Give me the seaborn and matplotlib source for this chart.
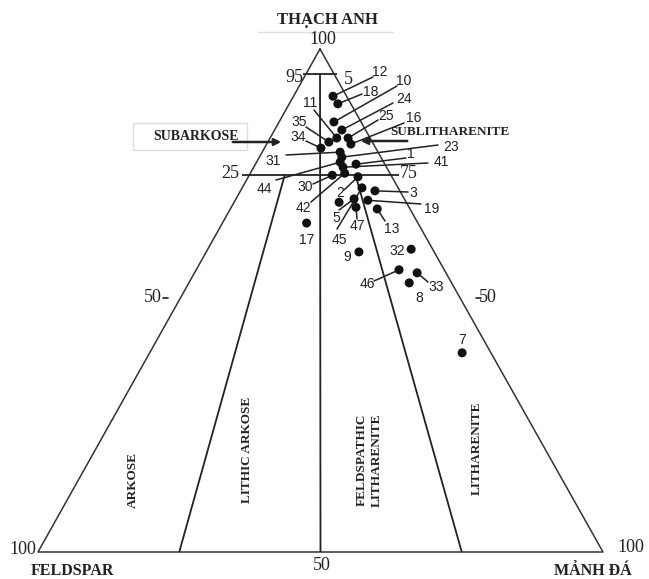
"""
Ternary QFR diagram (Folk) - sandstone classification of samples.
"""

import pandas as pd
import matplotlib.pyplot as plt
import seaborn as sns

# ── Sample compositions (% Thach anh / Feldspar / Manh da) ──────────
sample_ids = ["12", "18", "10", "24", "25", "16", "11", "35", "34", "31",
              "23", "44", "1", "41", "42", "30", "2", "45", "3", "5",
              "", "19", "47", "13", "17", "9", "32", "46", "33", "8", "7"]
quartz = [90.7, 89.1, 85.5, 83.9, 82.3, 81.1, 82.3, 81.5, 80.3, 79.5,
          78.5, 77.5, 77.1, 76.5, 75.3, 74.9, 74.6, 72.4, 71.8, 70.2,
          69.6, 70.0, 68.6, 68.2, 65.4, 59.6, 60.2, 56.1, 55.5, 53.5, 39.6]
feldspar = [2.4, 2.3, 4.8, 4.2, 3.9, 4.0, 5.9, 7.7, 9.7, 6.7,
            6.9, 7.7, 5.1, 7.7, 8.0, 10.4, 6.0, 6.4, 4.4, 8.9,
            11.9, 6.6, 9.4, 5.8, 19.7, 13.3, 3.8, 8.0, 5.1, 7.5, 5.1]
rock_frag = [7.0, 8.6, 9.7, 11.9, 13.8, 14.9, 11.8, 10.8, 10.0, 13.8,
             14.6, 14.8, 17.8, 15.8, 16.7, 14.7, 19.4, 21.2, 23.8, 20.9,
             18.6, 23.5, 22.1, 26.0, 14.9, 27.0, 36.0, 35.9, 39.4, 39.0, 55.3]

# field names
region_names = ["ARKOSE", "LITHIC ARKOSE", "FELDSPATHIC\nLITHARENITE", "LITHARENITE"]

# ── Layout (pixel space of the 649x579 picture) ─────────────────────
APEX, LEFT, RIGHT = (320, 49), (38, 552), (603, 552)

# label text position, start of leader line (None = no leader)
label_pos = {
    "12": ((380, 72), (373, 77)), "18": ((371, 92), (362, 94)),
    "10": ((404, 81), (397, 86)), "24": ((404, 99), (393, 103)),
    "25": ((386, 116), (378, 120)), "16": ((414, 118), (404, 123)),
    "11": ((310, 103), (314, 110)), "35": ((299, 122), (306, 127)),
    "34": ((298, 137), (306, 141)), "31": ((273, 161), (286, 155)),
    "23": ((451, 147), (438, 145)), "1": ((411, 154), (406, 158)),
    "41": ((441, 162), (428, 163)), "44": ((264, 189), (276, 180)),
    "30": ((305, 187), (313, 184)), "42": ((303, 208), (311, 202)),
    "2": ((340, 193), (344, 190)), "3": ((413, 193), (408, 192)),
    "19": ((432, 209), (421, 204)), "5": ((336, 218), (339, 210)),
    "47": ((357, 226), (357, 219)), "45": ((339, 240), (337, 229)),
    "13": ((392, 229), (385, 221)), "17": ((307, 240), None),
    "9": ((347, 257), None), "32": ((397, 251), None),
    "46": ((367, 284), (374, 281)), "33": ((436, 287), (428, 282)),
    "8": ((419, 298), None), "7": ((462, 340), None),
}


def tern(q, f, r):
    s = q + f + r
    q, f, r = q / s, f / s, r / s
    x = q * APEX[0] + f * LEFT[0] + r * RIGHT[0]
    y = q * APEX[1] + f * LEFT[1] + r * RIGHT[1]
    return x, y


df = pd.DataFrame({"id": sample_ids, "Q": quartz, "F": feldspar, "R": rock_frag})
df["x"], df["y"] = zip(*[tern(q, f, r) for q, f, r in zip(df.Q, df.F, df.R)])

sns.set_style("white")
fig = plt.figure(figsize=(6.49, 5.79), dpi=100)
ax = fig.add_axes([0, 0, 1, 1])
ax.set_xlim(0, 649)
ax.set_ylim(579, 0)
ax.axis("off")

serif = ["Liberation Serif", "DejaVu Serif"]
sans = ["Liberation Sans", "DejaVu Sans"]
line_kw = dict(color="#222222", lw=1.3, solid_capstyle="butt")

# ── Triangle and field boundaries ──────────────────────────────────
tri = [APEX, LEFT, RIGHT, APEX]
ax.plot([p[0] for p in tri], [p[1] for p in tri], color="#333333", lw=1.1)


def seg(a, b, ext=0.0, **kw):
    (x1, y1), (x2, y2) = tern(*a), tern(*b)
    dx, dy = x2 - x1, y2 - y1
    n = (dx ** 2 + dy ** 2) ** 0.5
    x1, y1 = x1 - dx / n * ext, y1 - dy / n * ext
    x2, y2 = x2 + dx / n * ext, y2 + dy / n * ext
    ax.plot([x1, x2], [y1, y2], **kw)


seg((95, 5, 0), (95, 0, 5), ext=3, **line_kw)
seg((75, 25, 0), (75, 0, 25), ext=8, **line_kw)
seg((95, 2.5, 2.5), (0, 50, 50), **line_kw)
seg((75, 18.75, 6.25), (0, 75, 25), **line_kw)
seg((75, 6.25, 18.75), (0, 25, 75), **line_kw)

# side ticks at 50
lx, ly = tern(50, 50, 0)
rx, ry = tern(50, 0, 50)
ax.plot([lx - 16, lx - 11], [ly - 3, ly - 3], color="#222222", lw=1.2)
ax.plot([rx + 14, rx + 19], [ry - 3, ry - 3], color="#222222", lw=1.2)

# ── Sample points + labels ─────────────────────────────────────────
for sid in df.id:
    if sid not in label_pos:
        continue
    (tx, ty), start = label_pos[sid]
    px, py = df.loc[df.id == sid, ["x", "y"]].iloc[0]
    if start is not None:
        ax.plot([start[0], px], [start[1], py], color="#222222", lw=1.1)
    ax.text(tx, ty, sid, ha="center", va="center", fontsize=10,
            family=sans, color="#222222")

sns.scatterplot(data=df, x="x", y="y", s=42, color="#111111",
                edgecolor="none", ax=ax, legend=False, zorder=5)

# ── Scale labels ───────────────────────────────────────────────────
num_kw = dict(family=serif, fontsize=13, color="#222222", va="center")
ax.text(APEX[0] + 3, 39, "100", ha="center", **num_kw)
ax.text(303, 77, "95", ha="right", **num_kw)
ax.text(344, 80, "5", ha="left", **num_kw)
ax.text(239, 173, "25", ha="right", **num_kw)
ax.text(400, 173, "75", ha="left", **num_kw)
ax.text(lx - 17, ly - 3, "50", ha="right", **num_kw)
ax.text(rx + 17, ry - 3, "50", ha="left", **num_kw)
ax.text(36, 550, "100", ha="right", **num_kw)
ax.text(617, 547, "100", ha="left", **num_kw)
ax.text(322, 566, "50", ha="center", **num_kw)

title_kw = dict(family=serif, fontweight="bold", color="#222222",
                ha="center", va="center")
ax.text(327, 20, "THẠCH ANH", fontsize=12, **title_kw)
ax.plot([258, 393], [32, 32], color="#dddddd", lw=1)
ax.text(72, 571, "FELDSPAR", fontsize=11.5, **title_kw)
ax.text(593, 571, "MẢNH ĐÁ", fontsize=11.5, **title_kw)

# subarkose / sublitharenite call-outs
ax.add_patch(plt.Rectangle((133, 123), 114, 27, fill=False,
                           edgecolor="#dddddd", lw=1))
ax.text(196, 136, "SUBARKOSE", fontsize=10, **title_kw)
ax.annotate("", xy=(284, 142), xytext=(230, 142),
            arrowprops=dict(arrowstyle="-|>", color="#222222", lw=1.8,
                            mutation_scale=10))
ax.text(390, 132, "SUBLITHARENITE", fontsize=9.5, family=serif,
        fontweight="bold", color="#222222", ha="left", va="center")
ax.annotate("", xy=(358, 141), xytext=(410, 141),
            arrowprops=dict(arrowstyle="-|>", color="#222222", lw=1.8,
                            mutation_scale=10))

# field names, vertical
for name, (x, y) in zip(region_names, [(133, 480), (247, 450), (369, 460), (477, 448)]):
    ax.text(x, y, name, rotation=90, fontsize=9.5, family=serif,
            fontweight="bold", color="#222222", ha="center", va="center",
            linespacing=1.3, multialignment="center")

plt.savefig("out.png", dpi=100)
